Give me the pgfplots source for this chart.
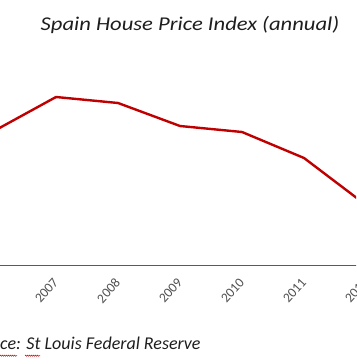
\documentclass[border=0pt]{standalone}
\usepackage{pgfplots}
\pgfplotsset{compat=1.18}
\usepackage{fontspec}
\setmainfont{Carlito}
\usetikzlibrary{decorations.pathmorphing}
\definecolor{linered}{RGB}{192,0,0}
\definecolor{axgray}{RGB}{90,90,90}
\definecolor{ticktxt}{RGB}{80,80,80}
\definecolor{txt}{RGB}{30,30,30}
\begin{document}
\begin{tikzpicture}[x=1pt,y=1pt]
\path[use as bounding box, clip] (0,0) rectangle (356,364);
\begin{axis}[
  at={(-68pt,99pt)}, anchor=south west,
  scale only axis, width=496pt, height=265pt,
  xmin=2005, xmax=2013, ymin=0, ymax=265,
  axis x line*=bottom, axis y line=none,
  x axis line style={draw=axgray, line width=0.9pt},
  xtick={2007,...,2012}, major tick length=0pt,
  xticklabel style={yshift=-13pt, xshift=2pt, rotate=48, anchor=east, font=\fontsize{13.5}{15}\selectfont, text=ticktxt, /pgf/number format/1000 sep={}},
  /pgf/number format/assume math mode=true,
  ytick=\empty, clip=false,
]
\addplot[linered, line width=2.4pt, line join=round] coordinates {
(2005,105) (2006,134) (2007,168) (2008,162) (2009,139) (2010,133) (2011,107) (2012,60) (2013,40)
};
\end{axis}
\node[anchor=base, inner sep=0pt, font=\fontsize{19.5}{22}\selectfont\itshape, text=txt] at (190,333.7) {\scalebox{1.16}[1]{Spain House Price Index (annual)}};
\node[anchor=base east, inner xsep=0pt, font=\fontsize{18}{21}\selectfont\itshape, text=txt] at (0,14) {Sour};
\node[anchor=base west, inner xsep=0pt, font=\fontsize{18}{21}\selectfont\itshape, text=txt] at (0,14) {ce: St Louis Federal Reserve};
\draw[red!85!black, line width=0.5pt, decorate, decoration={snake, amplitude=0.6pt, segment length=2pt}] (0,8.3) -- (17,8.3);
\draw[red!85!black, line width=0.5pt, decorate, decoration={snake, amplitude=0.6pt, segment length=2pt}] (25,8.3) -- (40,8.3);
\end{tikzpicture}
\end{document}
